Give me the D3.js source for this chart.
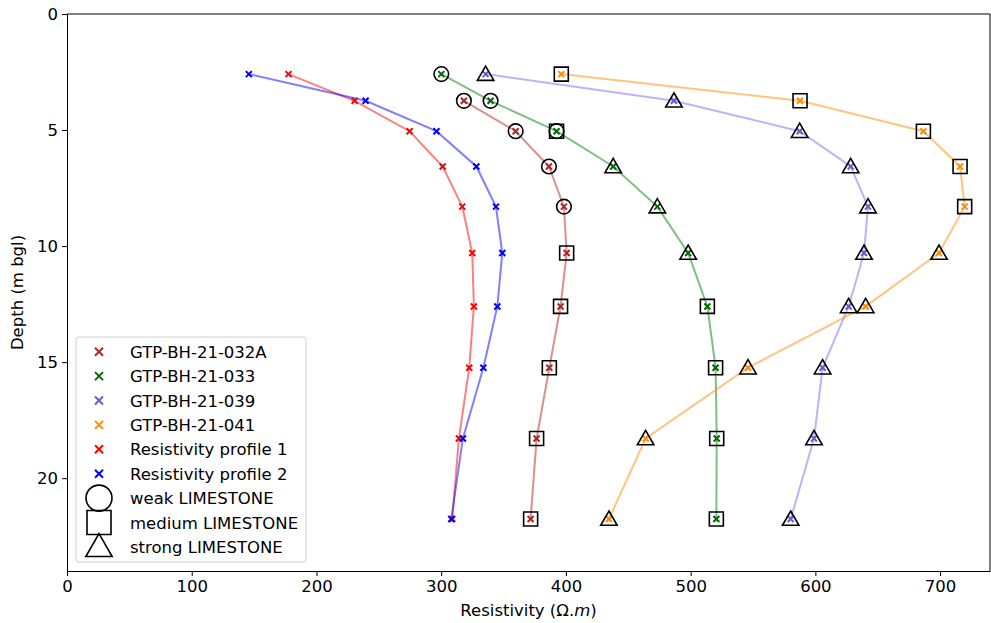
<!DOCTYPE html>
<html>
<head>
<meta charset="utf-8">
<script src="https://cdn.jsdelivr.net/npm/d3@7"></script>
<style>
  body { margin: 0; background: #fff; }
  svg { font-family: "DejaVu Sans", sans-serif; }
</style>
</head>
<body>
<div id="chart"></div>
<script>
// depth of each resistivity layer midpoint (m bgl)
const depths = [2.59, 3.74, 5.05, 6.57, 8.30, 10.30, 12.60, 15.24, 18.29, 21.76];

const profile1 = [177.6, 230.6, 274.7, 301.2, 316.9, 324.9, 326.2, 322.5, 314.2, 308.9];
const profile2 = [145.8, 239.4, 296.2, 328.2, 343.9, 349.0, 345.0, 333.8, 317.4, 308.1];

const bh032A = [null, 318.2, 359.7, 386.4, 398.4, 400.6, 395.7, 386.7, 376.5, 371.7];
const bh033 = [300.1, 339.6, 392.5, 437.9, 473.3, 498.0, 513.4, 520.0, 520.9, 520.6];
const bh039 = [335.6, 486.6, 587.4, 628.3, 642.2, 639.0, 626.7, 605.8, 598.9, 580.2];
const bh041 = [396.3, 587.7, 686.6, 716.0, 719.7, 699.1, 640.3, 546.0, 463.9, 434.5];

// limestone strength at each point ('+' = two classes at same point)
const str032A = [null, 'weak', 'weak', 'weak', 'weak', 'medium', 'medium', 'medium', 'medium', 'medium'];
const str033 = ['weak', 'weak', 'weak+medium', 'strong', 'strong', 'strong', 'medium', 'medium', 'medium', 'medium'];
const str039 = ['strong', 'strong', 'strong', 'strong', 'strong', 'strong', 'strong', 'strong', 'strong', 'strong'];
const str041 = ['medium', 'medium', 'medium', 'medium', 'medium', 'strong', 'strong', 'strong', 'strong', 'strong'];

const xTicks = [0, 100, 200, 300, 400, 500, 600, 700];
const yTicks = [0, 5, 10, 15, 20];

const width = 991, height = 623;
const margin = { top: 14, right: 1, bottom: 52, left: 67 };
const fs = 16.5;

const svg = d3.select('#chart').append('svg')
    .attr('width', width)
    .attr('height', height);

const x = d3.scaleLinear().domain([0, 740]).range([margin.left, width - margin.right]);
const y = d3.scaleLinear().domain([0, 24]).range([margin.top, height - margin.bottom]);

const series = [
    { name: 'GTP-BH-21-032A', vals: bh032A, str: str032A, color: '#b22222' },
    { name: 'GTP-BH-21-033', vals: bh033, str: str033, color: '#006a00' },
    { name: 'GTP-BH-21-039', vals: bh039, str: str039, color: '#6a5acd' },
    { name: 'GTP-BH-21-041', vals: bh041, str: str041, color: '#ff8c00' },
    { name: 'Resistivity profile 1', vals: profile1, str: null, color: '#ff0000' },
    { name: 'Resistivity profile 2', vals: profile2, str: null, color: '#0000ff' }
];

const lineColors = {
    'GTP-BH-21-032A': '#b22222', 'GTP-BH-21-033': '#008000', 'GTP-BH-21-039': '#7b68ee',
    'GTP-BH-21-041': '#ff8c00', 'Resistivity profile 1': '#ff0000', 'Resistivity profile 2': '#0000ff'
};

const line = d3.line()
    .defined(d => d.v != null)
    .x(d => x(d.v))
    .y(d => y(d.d));

const plot = svg.append('g');

function crossPath(s) {
    return `M${-s},${-s}L${s},${s}M${-s},${s}L${s},${-s}`;
}

const shapes = {
    weak: d3.symbol().type(d3.symbolCircle).size(Math.PI * 7.3 * 7.3),
    medium: d3.symbol().type(d3.symbolSquare).size(14 * 14),
    strong: d3.symbol().type(d3.symbolTriangle).size(118)
};

// lines first
series.forEach(s => {
    const pts = depths.map((d, i) => ({ d, v: s.vals[i] }));
    plot.append('path')
        .datum(pts)
        .attr('d', line)
        .attr('fill', 'none')
        .attr('stroke', lineColors[s.name])
        .attr('stroke-opacity', 0.5)
        .attr('stroke-width', 2);
});

// x markers
series.forEach(s => {
    const pts = depths.map((d, i) => ({ d, v: s.vals[i] })).filter(p => p.v != null);
    plot.selectAll(null)
        .data(pts)
        .enter()
        .append('path')
        .attr('transform', p => `translate(${x(p.v)},${y(p.d)})`)
        .attr('d', crossPath(3))
        .attr('stroke', s.color)
        .attr('stroke-width', 2)
        .attr('fill', 'none');
});

// strength markers
series.filter(s => s.str).forEach(s => {
    const pts = [];
    depths.forEach((d, i) => {
        if (s.str[i] == null) return;
        s.str[i].split('+').forEach(k => pts.push({ d, v: s.vals[i], k }));
    });
    plot.selectAll(null)
        .data(pts)
        .enter()
        .append('path')
        .attr('transform', p => `translate(${x(p.v)},${y(p.d) + (p.k === 'strong' ? 1.5 : 0)})`)
        .attr('d', p => shapes[p.k]())
        .attr('fill', 'none')
        .attr('stroke', '#000')
        .attr('stroke-width', 1.6);
});

// axes
const xAxis = svg.append('g')
    .attr('transform', `translate(0,${height - margin.bottom})`)
    .call(d3.axisBottom(x).tickValues(xTicks).tickSize(5).tickPadding(4).tickSizeOuter(0));
const yAxis = svg.append('g')
    .attr('transform', `translate(${margin.left},0)`)
    .call(d3.axisLeft(y).tickValues(yTicks).tickSize(5).tickPadding(4).tickSizeOuter(0));

[xAxis, yAxis].forEach(a => {
    a.selectAll('text').attr('font-size', fs).attr('fill', '#000').attr('font-family', 'DejaVu Sans');
    a.selectAll('line').attr('stroke', '#000').attr('stroke-width', 1);
    a.select('.domain').attr('stroke', '#000').attr('stroke-width', 1);
});

// top and right spines
svg.append('line')
    .attr('x1', margin.left).attr('x2', width - margin.right)
    .attr('y1', margin.top).attr('y2', margin.top)
    .attr('stroke', '#000');
svg.append('line')
    .attr('x1', width - margin.right).attr('x2', width - margin.right)
    .attr('y1', margin.top).attr('y2', height - margin.bottom)
    .attr('stroke', '#000');

// axis labels
const xl = svg.append('text')
    .attr('x', (margin.left + width - margin.right) / 2)
    .attr('y', 616)
    .attr('text-anchor', 'middle')
    .attr('font-size', fs);
xl.append('tspan').text('Resistivity (Ω.');
xl.append('tspan').attr('font-style', 'italic').text('m');
xl.append('tspan').text(')');

svg.append('text')
    .attr('transform', `translate(23,${(margin.top + height - margin.bottom) / 2}) rotate(-90)`)
    .attr('text-anchor', 'middle')
    .attr('font-size', fs)
    .text('Depth (m bgl)');

// legend
const legend = svg.append('g').attr('transform', 'translate(76,337)');
legend.append('rect')
    .attr('width', 230).attr('height', 225)
    .attr('rx', 3)
    .attr('fill', '#fff').attr('fill-opacity', 0.8)
    .attr('stroke', '#d0d0d0');

const legendItems = series.map(s => ({ name: s.name, color: s.color, k: 'x' }))
    .concat([
        { name: 'weak LIMESTONE', k: 'weak' },
        { name: 'medium LIMESTONE', k: 'medium' },
        { name: 'strong LIMESTONE', k: 'strong' }
    ]);

const rows = legend.selectAll('g.row')
    .data(legendItems)
    .enter()
    .append('g')
    .attr('class', 'row')
    .attr('transform', (d, i) => `translate(23,${14.7 + i * 24.4})`);

rows.append('path')
    .attr('d', d => {
        if (d.k === 'x') return crossPath(4);
        if (d.k === 'weak') return d3.symbol().type(d3.symbolCircle).size(Math.PI * 13 * 13)();
        if (d.k === 'medium') return d3.symbol().type(d3.symbolSquare).size(24 * 24)();
        return d3.symbol().type(d3.symbolTriangle).size(300)();
    })
    .attr('transform', d => d.k === 'strong' ? 'translate(0,2)' : null)
    .attr('fill', 'none')
    .attr('stroke', d => d.k === 'x' ? d.color : '#000')
    .attr('stroke-width', d => d.k === 'x' ? 2 : 1.6);

rows.append('text')
    .attr('x', 31)
    .attr('y', 6)
    .attr('font-size', fs)
    .text(d => d.name);
</script>
</body>
</html>
